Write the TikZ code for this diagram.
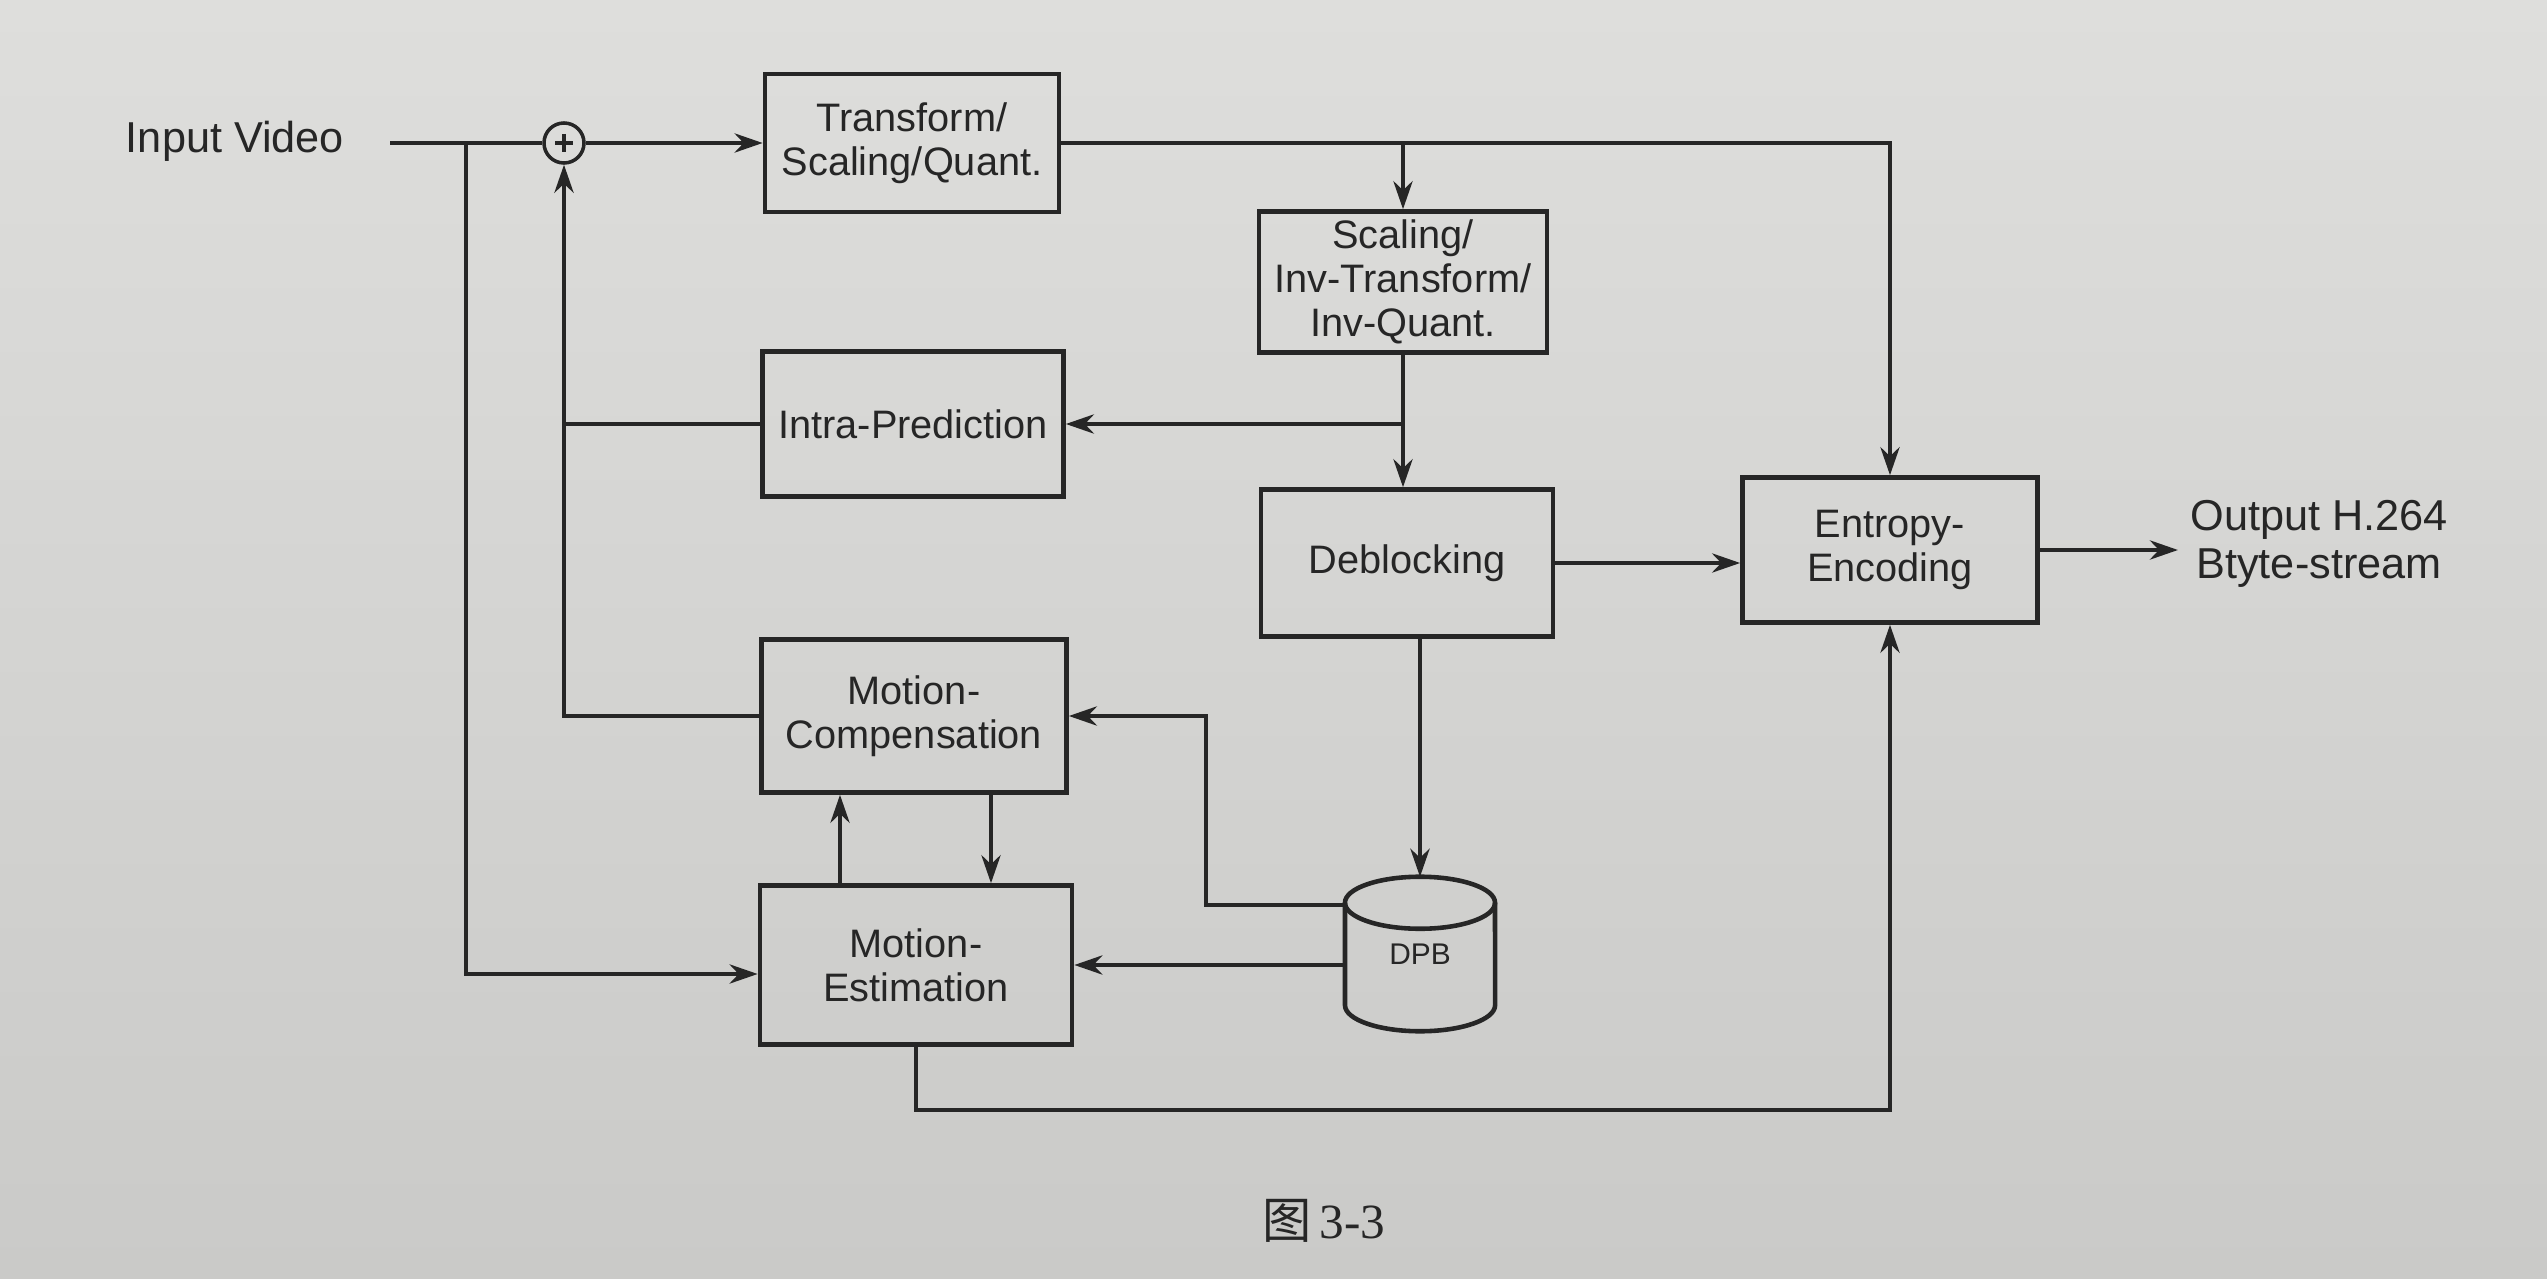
\documentclass[tikz,border=0pt]{standalone}
\usepackage{fontspec}
\setmainfont{Liberation Sans}
\newfontfamily\cjk{Noto Sans CJK SC}
\newfontfamily\capserif{Liberation Serif}
\usetikzlibrary{arrows.meta,calc}
\definecolor{paper}{RGB}{222,222,220}
\definecolor{paperdark}{RGB}{202,202,200}
\definecolor{ink}{RGB}{38,38,38}
\begin{document}
\begin{tikzpicture}[x=0.01cm,y=-0.01cm,
  box/.style={draw=ink,line width=1.3pt,align=center,inner sep=0pt,
    font=\fontsize{11.3}{12.6}\selectfont,text=ink},
  conn/.style={draw=ink,line width=0.9pt},
  arr/.style={conn,-{Stealth[length=8pt,width=5.5pt]}},
  lbl/.style={align=center,font=\fontsize{12.3}{13.6}\selectfont,text=ink},
  cyl/.style={draw=ink,line width=1.3pt}]
\shade[top color=paper,bottom color=paperdark] (0,0) rectangle (2547,1279);
\useasboundingbox (0,0) rectangle (2547,1279);

% nodes
\node[lbl] (in) at (235,141) {Input Video};
\node[draw=ink,line width=1pt,circle,minimum size=0.40cm,inner sep=0pt] (sum) at (564,143) {};
\draw[conn,line width=1.2pt] ($(sum.center)+(-9,0)$) -- ($(sum.center)+(9,0)$);
\draw[conn,line width=1.2pt] ($(sum.center)+(0,-9)$) -- ($(sum.center)+(0,9)$);

\node[box,minimum width=2.94cm,minimum height=1.38cm] (tq) at (912,143) {Transform/\\Scaling/Quant.};
\node[box,minimum width=2.88cm,minimum height=1.41cm] (siq) at (1403,282) {Scaling/\\Inv-Transform/\\Inv-Quant.};
\node[box,minimum width=3.01cm,minimum height=1.45cm] (ip) at (913,424) {Intra-Prediction};
\node[box,minimum width=2.92cm,minimum height=1.47cm] (db) at (1407,563) {Deblocking};
\node[box,minimum width=2.95cm,minimum height=1.45cm] (ee) at (1890,550) {Entropy-\\Encoding};
\node[box,minimum width=3.05cm,minimum height=1.53cm] (mc) at (914,716) {Motion-\\Compensation};
\node[box,minimum width=3.12cm,minimum height=1.59cm] (me) at (916,965) {Motion-\\Estimation};
\node[minimum width=1.50cm,minimum height=1.53cm,inner sep=0pt,
  font=\fontsize{8.5}{10}\selectfont,text=ink] (dpb) at (1420,954) {DPB};
\node[lbl] (out) at (2319,544) {Output H.264\\Btyte-stream};
\node[text=ink,font=\fontsize{14}{16}\selectfont] (cap) at (1324,1221) {{\cjk 图}\,{\capserif 3-3}};

% cylinder of DPB
\path (dpb.north) ++(0,26) coordinate (ct);
\path (dpb.south) ++(0,-26) coordinate (cb);
\draw[cyl] (ct) ellipse [x radius=0.75cm,y radius=0.26cm];
\draw[cyl] ($(ct)+(-75,0)$) -- ($(cb)+(-75,0)$)
  arc[start angle=180,end angle=360,x radius=0.75cm,y radius=0.26cm]
  -- ($(ct)+(75,0)$);

% helper coordinates
\coordinate (inS) at (390,143);
\coordinate (br) at (466,143);
\coordinate (yA) at (0,905);
\coordinate (xL) at (840,0);
\coordinate (xR) at (991,0);
\coordinate (yB) at (0,1110);
\coordinate (xMid) at (1206,0);

% connectors
\draw[conn] (inS) -- (sum.west);
\draw[arr] (br) |- ($(me.west)+(0,9)$);
\draw[arr] (sum.east) -- (tq.west);
\draw[arr] (tq.east) -| (ee.north);
\draw[arr] (siq.north |- tq.east) -- (siq.north);
\draw[arr] (siq.south) -- (siq.south |- db.north);
\draw[arr] (siq.south |- ip.east) -- (ip.east);
\draw[conn] (ip.west) -- (ip.west -| sum.south);
\draw[arr] (mc.west) -| (sum.south);
\draw[arr] (db.east) -- (db.east -| ee.west);
\draw[arr] (ee.east) -- (ee.east -| out.west);
\draw[arr] (dpb.north |- db.south) -- (dpb.north);
\draw[arr] (dpb.west |- yA) -- (xMid |- yA) -- (xMid |- mc.east) -- (mc.east);
\draw[arr] (dpb.west |- me.east) -- (me.east);
\draw[arr] (xR |- mc.south) -- (xR |- me.north);
\draw[arr] (xL |- me.north) -- (xL |- mc.south);
\draw[arr] (me.south) -- (me.south |- yB) -| (ee.south);
\end{tikzpicture}
\end{document}
